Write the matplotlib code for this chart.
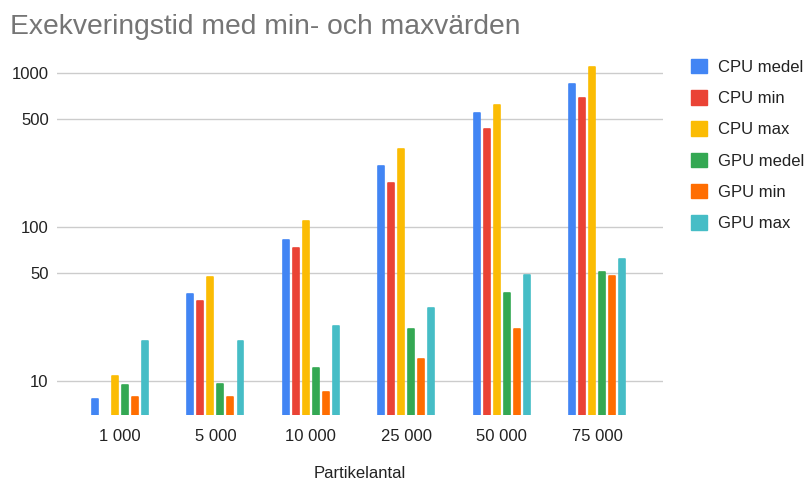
import numpy as np
import matplotlib
matplotlib.use("Agg")
import matplotlib.pyplot as plt
from matplotlib.patches import Patch

# Data (log scale)
categories = ["1 000", "5 000", "10 000", "25 000", "50 000", "75 000"]
series_names = ["CPU medel", "CPU min", "CPU max", "GPU medel", "GPU min", "GPU max"]
cpu_medel = [7.6, 36.6, 81.8, 248, 546, 845]
cpu_min = [5.0, 32.8, 73, 193, 432, 686]   # 1 000: below the axis floor, not visible
cpu_max = [10.7, 46.9, 108.7, 318, 618, 1081]
gpu_medel = [9.4, 9.6, 12.1, 21.7, 37, 50.6]
gpu_min = [7.9, 7.9, 8.45, 13.9, 21.7, 47.6]
gpu_max = [18.2, 18.1, 22.8, 29.8, 48.5, 61.4]
y_ticks = [10, 50, 100, 500, 1000]

colors = ["#4285F4", "#EA4335", "#FBBC04", "#34A853", "#FF6D01", "#46BDC6"]
all_series = [cpu_medel, cpu_min, cpu_max, gpu_medel, gpu_min, gpu_max]

plt.rcParams["font.family"] = ["Liberation Sans", "DejaVu Sans"]

fig = plt.figure(figsize=(8.08, 4.84), dpi=100)
ax = fig.add_axes([57 / 808, 1 - 415 / 484, 606 / 808, 360 / 484])

ymin = 6.0
x = np.arange(len(categories))
step = 0.105
width = 0.062
for i, (vals, col) in enumerate(zip(all_series, colors)):
    vals = np.array(vals, dtype=float)
    keep = vals > ymin
    offs = (i - 2.5) * step
    ax.bar(x[keep] + offs, vals[keep] - ymin, width, bottom=ymin, color=col,
           edgecolor=col, linewidth=1.2, joinstyle="round", zorder=3)

ax.set_yscale("log")
ax.set_ylim(ymin, 1300)
ax.set_xlim(-0.66, 5.69)
ax.set_yticks(y_ticks)
ax.set_yticklabels([str(t) for t in y_ticks])
ax.minorticks_off()
ax.set_xticks(x)
ax.set_xticklabels(categories)
ax.tick_params(axis="both", length=0, labelsize=12, colors="#222222")
ax.tick_params(axis="y", pad=6)
ax.tick_params(axis="x", pad=10)
ax.grid(axis="y", color="#cccccc", linewidth=1, zorder=0)
for s in ax.spines.values():
    s.set_visible(False)

# axis title placed directly so it stays inside the canvas
fig.text(360 / 808, 1 - 474 / 484, "Partikelantal", fontsize=12,
         color="#222222", ha="center", va="center")

fig.text(10 / 808, 1 - 27 / 484, "Exekveringstid med min- och maxvärden",
         fontsize=20.3, color="#757575", va="center", ha="left")

handles = [Patch(facecolor=c, edgecolor=c) for c in colors]
fig.legend(handles, series_names, loc="upper left",
           bbox_to_anchor=(691 / 808, 1 - 59 / 484), frameon=False,
           fontsize=12, handlelength=0.95, handleheight=0.95,
           labelspacing=0.92, handletextpad=0.7, borderpad=0, borderaxespad=0,
           labelcolor="#222222")

fig.savefig("out.png", dpi=100, facecolor="white")
